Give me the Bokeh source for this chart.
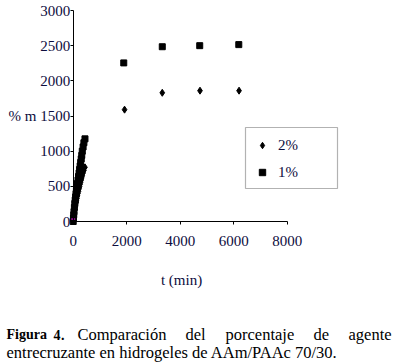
from bokeh.plotting import figure
from bokeh.models import (Range1d, FixedTicker, Legend, LegendItem, BoxAnnotation, Label)
from bokeh.embed import file_html
from bokeh.resources import INLINE

# ---------------- data ----------------
t_1pct = [0, 10, 20, 30, 45, 60, 75, 90, 105, 120, 140, 160, 180, 200, 220, 240,
          260, 280, 300, 320, 340, 370, 400, 440, 1890, 3330, 4730, 6190]
m_1pct = [0, 50, 95, 140, 200, 255, 305, 350, 395, 435, 490, 540, 590, 640, 690, 740,
          790, 840, 890, 940, 1000, 1060, 1120, 1175, 2255, 2485, 2500, 2515]

t_2pct = [0, 10, 20, 30, 45, 60, 75, 90, 105, 120, 140, 160, 180, 200, 220, 240,
          260, 280, 300, 320, 340, 370, 400, 440, 1920, 3330, 4740, 6200]
m_2pct = [0, 35, 65, 95, 135, 170, 205, 235, 265, 295, 330, 365, 400, 430, 465, 495,
          530, 560, 590, 620, 650, 690, 725, 770, 1590, 1830, 1860, 1860]

t_extra = [0]
m_extra = [35]

x_ticks = [0, 2000, 4000, 6000, 8000]
y_ticks = [0, 500, 1000, 1500, 2000, 2500, 3000]
series_labels = ["2%", "1%"]
x_title = "t (min)"
y_title = "% m"
caption_bold = ["Figura", "4"]
caption_line1 = [".", "Comparación", "del", "porcentaje", "de", "agente"]
caption_line2 = "entrecruzante en hidrogeles de AAm/PAAc 70/30."

# ---------------- layout (pixel geometry of the page) ----------------
W, H = 396, 363
AX_X, AX_Y = 72.7, 221.0          # pixel position of the data origin
PXX = 214 / 8000.0                # px per minute
PXY = 211 / 3000.0                # px per % m

def dx(px):
    return (px - AX_X) / PXX

def dy(py):
    return (AX_Y - py) / PXY

SERIF = "Liberation Serif"
TXT = "#0d0d3d"

p = figure(width=W, height=H, output_backend="svg", toolbar_location=None,
           x_range=Range1d(dx(0), dx(W)), y_range=Range1d(dy(H), dy(0)),
           min_border=0)
p.outline_line_color = None
p.grid.visible = False
p.background_fill_color = "white"
p.border_fill_color = "white"

for ax in (p.xaxis[0], p.yaxis[0]):
    ax.fixed_location = 0
    ax.axis_line_color = "black"
    ax.major_tick_line_color = "black"
    ax.major_tick_in = 0
    ax.major_tick_out = 3
    ax.minor_tick_line_color = None
    ax.major_label_text_font = SERIF
    ax.major_label_text_font_size = "15px"
    ax.major_label_text_color = TXT

p.xaxis.ticker = FixedTicker(ticks=x_ticks)
p.xaxis.bounds = (x_ticks[0], x_ticks[-1])
p.xaxis.major_label_standoff = 11

p.yaxis.ticker = FixedTicker(ticks=y_ticks)
p.yaxis.bounds = (y_ticks[0], y_ticks[-1])
p.yaxis.major_label_standoff = 0

# axis titles
p.add_layout(Label(x=dx(181), y=dy(279), text=x_title, text_font=SERIF,
                   text_font_size="15px", text_color=TXT,
                   text_align="center", text_baseline="middle"))
p.add_layout(Label(x=dx(8), y=dy(115), text=y_title, text_font=SERIF,
                   text_font_size="15px", text_color=TXT,
                   text_align="left", text_baseline="middle"))

r2 = p.scatter(t_2pct, m_2pct, marker="diamond", size=7, color="black")
r1 = p.scatter(t_1pct, m_1pct, marker="square", size=6, color="black")
p.scatter(t_extra, m_extra, marker="dash", size=4, line_color="#ff00ff", line_width=1)

# legend box
p.add_layout(BoxAnnotation(left=dx(245), right=dx(337), top=dy(127), bottom=dy(188),
                           fill_alpha=0, line_color="black", line_width=1.2,
                           editable=False))
legend = Legend(items=[LegendItem(label=series_labels[0], renderers=[r2]),
                       LegendItem(label=series_labels[1], renderers=[r1])],
                location=(254, H - 182), orientation="vertical",
                glyph_width=16, glyph_height=16, label_height=20, label_width=10,
                spacing=7, padding=0, margin=0, label_standoff=8,
                border_line_alpha=0, background_fill_alpha=0,
                label_text_font=SERIF, label_text_font_size="15px",
                label_text_color=TXT)
p.add_layout(legend, "center")

# caption (first line justified word by word)
base1 = dy(334)
base2 = dy(352)
words1 = [(caption_bold[0], 6, "bold", "14px"), (caption_bold[1], 53, "bold", "14px"),
          (caption_line1[0], 60.5, "bold", "14px"), (caption_line1[1], 77, "normal", "16.5px"),
          (caption_line1[2], 185, "normal", "16.5px"), (caption_line1[3], 225, "normal", "16.5px"),
          (caption_line1[4], 313, "normal", "16.5px"), (caption_line1[5], 348, "normal", "16.5px")]
for txt, xpx, style, fs in words1:
    p.add_layout(Label(x=dx(xpx), y=base1, text=txt, text_font=SERIF,
                       text_font_size=fs, text_font_style=style,
                       text_color="black", text_baseline="alphabetic",
                       text_align="left"))
p.add_layout(Label(x=dx(6), y=base2, text=caption_line2, text_font=SERIF,
                   text_font_size="16.5px", text_color="black",
                   text_baseline="alphabetic", text_align="left"))

open("out.html", "w").write(file_html(p, INLINE))
